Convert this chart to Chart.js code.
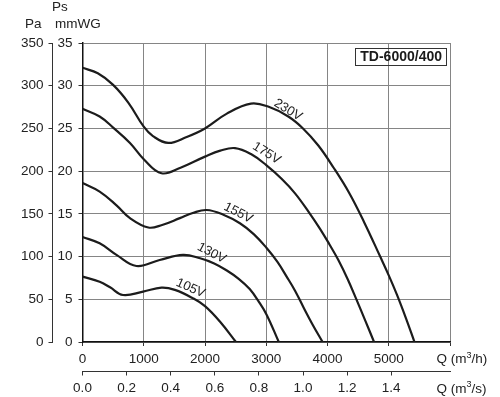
<!DOCTYPE html>
<html>
<head>
<meta charset="utf-8">
<script src="https://cdn.jsdelivr.net/npm/chart.js@4.4.0/dist/chart.umd.min.js"></script>
<style>
  html, body { margin: 0; padding: 0; background: #fff; }
  #wrap { width: 500px; height: 397px; }
</style>
</head>
<body>
<div id="wrap"><canvas id="c" width="500" height="397"></canvas></div>
<script>
// ---- Data (Q in m3/h, Ps in mmWG) ----
const flow230 = [0, 250, 500, 750, 1000, 1150, 1400, 1700, 2000, 2350, 2750, 3050, 3360, 3600, 3850, 4100, 4350, 4600, 4860, 5000, 5130, 5280, 5420];
const press230 = [32.1, 31.45, 30.1, 28.0, 25.2, 24.1, 23.3, 24.0, 25.0, 26.7, 27.9, 27.5, 26.4, 25.0, 23.0, 20.4, 17.5, 14.0, 10.0, 7.8, 5.6, 2.8, 0];

const flow175 = [0, 280, 500, 775, 1000, 1290, 1600, 2000, 2250, 2490, 2750, 3000, 3250, 3470, 3700, 3878, 4030, 4177, 4330, 4477, 4620, 4760];
const press175 = [27.3, 26.4, 25.1, 23.3, 21.4, 19.75, 20.4, 21.7, 22.4, 22.7, 22.0, 20.7, 19.1, 17.4, 15.15, 13.25, 11.45, 9.6, 7.35, 4.9, 2.45, 0];

const flow155 = [0, 280, 555, 775, 1075, 1300, 1590, 1800, 2026, 2300, 2570, 2800, 3006, 3180, 3333, 3470, 3605, 3760, 3920];
const press155 = [18.6, 17.6, 16.0, 14.5, 13.4, 13.7, 14.5, 15.1, 15.45, 14.9, 13.9, 12.6, 11.0, 9.4, 7.65, 6.0, 4.1, 2.0, 0];

const flow130 = [0, 280, 555, 880, 1260, 1640, 1920, 2150, 2350, 2550, 2730, 2880, 3006, 3205];
const press130 = [12.3, 11.55, 10.2, 8.9, 9.6, 10.2, 9.8, 9.2, 8.4, 7.4, 6.2, 4.7, 3.2, 0];

const flow105 = [0, 280, 450, 660, 990, 1290, 1508, 1808, 2000, 2243, 2505];
const press105 = [7.65, 7.06, 6.4, 5.5, 5.9, 6.36, 6.1, 5.1, 4.2, 2.4, 0];

const voltages = ['230V', '175V', '155V', '130V', '105V'];
// label anchors in data units (Q m3/h, Ps mmWG) and angle in degrees
const labelQ = [3355, 3006, 2543, 2108, 1765];
const labelP = [27.15, 22.1, 15.1, 10.4, 6.3];
const labelAngle = [31, 32, 27, 28, 24];

const qTicksH = [0, 1000, 2000, 3000, 4000, 5000, 6000];
const qTicksS = [0, 0.2, 0.4, 0.6, 0.8, 1.0, 1.2, 1.4];
const chartTitle = 'TD-6000/400';

// ---- Build ----
const flows = [flow230, flow175, flow155, flow130, flow105];
const presses = [press230, press175, press155, press130, press105];

const FONT = "'Liberation Sans', Arial, Helvetica, sans-serif";
const TXT = '#222';
const tickFont = { family: FONT, size: 13.5 };

const datasets = flows.map((f, i) => ({
  label: voltages[i],
  data: f.map((q, j) => ({ x: q, y: presses[i][j] })),
  showLine: true,
  borderColor: '#1c1c1c',
  borderWidth: 2.2,
  pointRadius: 0,
  tension: 0.4,
  fill: false
}));

const curveLabels = {
  id: 'curveLabels',
  afterDatasetsDraw(chart) {
    const { ctx, scales } = chart;
    ctx.save();
    ctx.fillStyle = TXT;
    ctx.font = "13px " + FONT;
    ctx.textAlign = 'center';
    ctx.textBaseline = 'middle';
    voltages.forEach((v, i) => {
      const x = scales.x.getPixelForValue(labelQ[i]);
      const y = scales.y.getPixelForValue(labelP[i]);
      ctx.save();
      ctx.translate(x, y);
      ctx.rotate(labelAngle[i] * Math.PI / 180);
      ctx.fillText(v, 0, 0);
      ctx.restore();
    });
    ctx.restore();
  }
};

function drawSup(ctx, x, y, pre, sup, post) {
  ctx.textAlign = 'left';
  ctx.textBaseline = 'middle';
  ctx.font = "13.5px " + FONT;
  ctx.fillText(pre, x, y);
  let w = ctx.measureText(pre).width;
  ctx.font = "9px " + FONT;
  ctx.fillText(sup, x + w, y - 4);
  w += ctx.measureText(sup).width;
  ctx.font = "13.5px " + FONT;
  ctx.fillText(post, x + w, y);
}

const decorations = {
  id: 'decorations',
  afterDraw(chart) {
    const { ctx, chartArea, scales } = chart;
    ctx.save();
    ctx.fillStyle = TXT;
    ctx.font = "13.5px " + FONT;
    ctx.textBaseline = 'middle';
    ctx.textAlign = 'left';
    ctx.fillText('Pa', 25, 24.5);
    ctx.fillText('Ps', 52, 7.5);
    ctx.fillText('mmWG', 55, 24.5);

    const xl = chartArea.right - 13.5;
    drawSup(ctx, xl, scales.x.top + 17.3, 'Q (m', '3', '/h)');
    drawSup(ctx, xl, scales.x2.top + 17.3, 'Q (m', '3', '/s)');

    // title box
    ctx.font = "bold 14px " + FONT;
    const tw = ctx.measureText(chartTitle).width;
    const bw = tw + 9, bh = 17;
    const bx = chartArea.right - 4 - bw, by = chartArea.top + 5;
    ctx.strokeStyle = '#333';
    ctx.lineWidth = 1;
    ctx.strokeRect(Math.round(bx) + 0.5, Math.round(by) + 0.5, Math.round(bw), bh);
    ctx.textAlign = 'center';
    ctx.fillStyle = '#1a1a1a';
    ctx.fillText(chartTitle, bx + bw / 2 + 0.5, by + bh / 2 + 1);
    ctx.restore();
  }
};

new Chart(document.getElementById('c'), {
  type: 'scatter',
  data: { datasets },
  options: {
    responsive: false,
    animation: false,
    events: [],
    layout: { padding: { top: 43, right: 50, left: 0, bottom: 0 } },
    plugins: { legend: { display: false }, tooltip: { enabled: false } },
    scales: {
      x: {
        type: 'linear', position: 'bottom', weight: 0,
        min: 0, max: 6000,
        afterBuildTicks: s => { s.ticks = qTicksH.map(v => ({ value: v })); },
        afterFit: s => { s.height = 29.5; },
        ticks: {
          font: tickFont, color: TXT, padding: 5, maxRotation: 0, autoSkip: false,
          callback: v => (v === 6000 ? '' : String(v))
        },
        grid: { color: '#858585', lineWidth: 1, tickLength: 4, tickColor: '#333' },
        border: { color: '#111', width: 1.5 }
      },
      x2: {
        type: 'linear', position: 'bottom', weight: 1,
        min: 0, max: 6000 / 3600,
        afterBuildTicks: s => { s.ticks = qTicksS.map(v => ({ value: v })); },
        afterFit: s => { s.height = 25.5; },
        ticks: {
          font: tickFont, color: TXT, padding: 5, maxRotation: 0, autoSkip: false,
          callback: v => Number(v).toFixed(1)
        },
        grid: { drawOnChartArea: false, tickLength: 4, tickColor: '#333' },
        border: { color: '#333', width: 1 }
      },
      y: {
        type: 'linear', position: 'left', weight: 0,
        min: 0, max: 35,
        afterFit: s => { s.width = 30; },
        ticks: { stepSize: 5, font: tickFont, color: TXT, padding: 6 },
        grid: { color: '#858585', lineWidth: 1, tickLength: 4, tickColor: '#333' },
        border: { color: '#111', width: 1.5 }
      },
      y2: {
        type: 'linear', position: 'left', weight: 1,
        min: 0, max: 350,
        afterFit: s => { s.width = 52.5; },
        ticks: { stepSize: 50, font: tickFont, color: TXT, padding: 5 },
        grid: { drawOnChartArea: false, tickLength: 4, tickColor: '#333' },
        border: { color: '#333', width: 1 }
      }
    }
  },
  plugins: [curveLabels, decorations]
});
</script>
</body>
</html>
